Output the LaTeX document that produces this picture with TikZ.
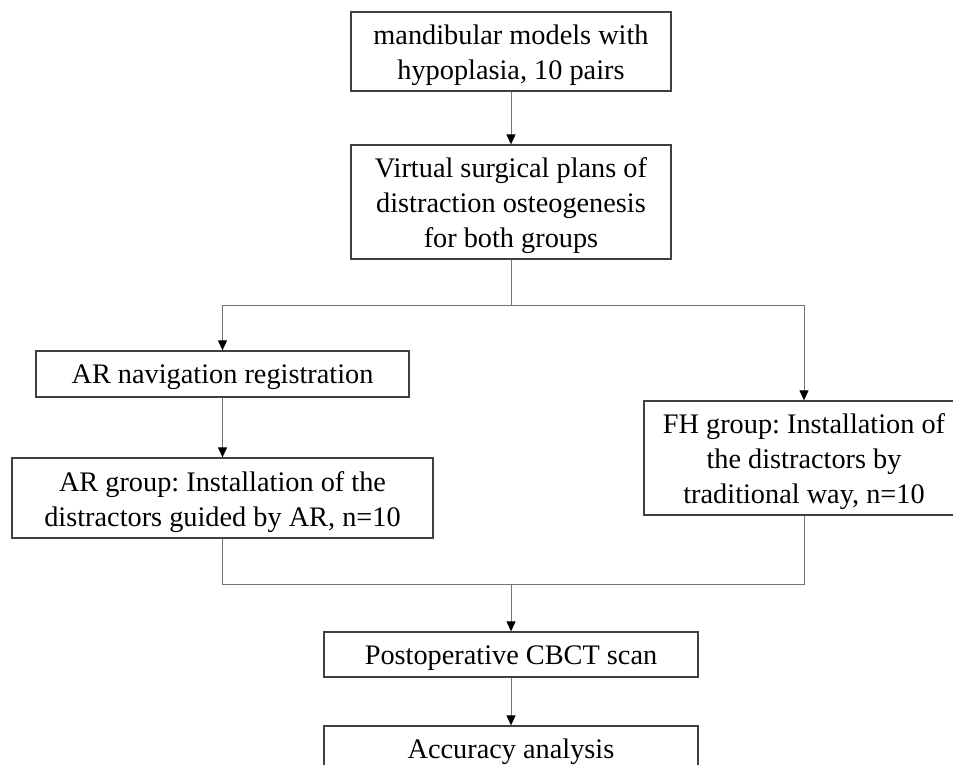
\documentclass[tikz,border=0pt]{standalone}
\usepackage{fontspec}
\setmainfont{Liberation Serif}
\usetikzlibrary{arrows.meta}
\definecolor{boxc}{gray}{0.25}
\definecolor{linec}{gray}{0.45}
\frenchspacing
\newcommand{\dropstrut}{\rule{0pt}{25.5pt}}
\newcommand{\dropmulti}{\rule{0pt}{28pt}}
\begin{document}
\begin{tikzpicture}[x=1pt,y=-1pt,
  box/.style={draw=boxc,line width=1.3pt,inner sep=0pt,align=center,
    font=\fontsize{28.3}{35}\selectfont},
  conn/.style={draw=linec,line width=1pt},
  arr/.style={conn,-{Triangle[width=9pt,length=10pt,color=black]}}]
\useasboundingbox (0,0) rectangle (953,765);
\node[box,minimum width=320,minimum height=79] (b1) at (511,51.5)
  {\dropmulti mandibular models with\\hypoplasia, 10 pairs};
\node[box,minimum width=320,minimum height=114] (b2) at (511,202)
  {\dropmulti Virtual surgical plans of\\distraction osteogenesis\\for both groups};
\node[box,minimum width=373,minimum height=46] (nav) at (222.5,374)
  {\dropstrut AR navigation registration};
\node[box,minimum width=421,minimum height=80] (arg) at (222.5,498)
  {\dropmulti AR group: Installation of the\\distractors guided by AR, n=10};
\node[box,minimum width=320,minimum height=114] (fh) at (804,458)
  {\dropmulti FH group: Installation of\\the distractors by\\traditional way, n=10};
\node[box,minimum width=374,minimum height=45] (ct) at (511,654.5)
  {\dropstrut Postoperative CBCT scan};
\node[box,minimum width=374,minimum height=45] (acc) at (511,748.5)
  {\dropstrut Accuracy analysis};
\coordinate (split) at (511,305);
\coordinate (merge) at (511,584);
\draw[arr] (b1.south) -- (b2.north);
\draw[conn] (b2.south) -- (split);
\draw[arr] (split) -| (nav.north);
\draw[arr] (split) -| (fh.north);
\draw[arr] (nav.south) -- (arg.north);
\draw[conn] (arg.south) |- (merge);
\draw[conn] (fh.south) |- (merge);
\draw[arr] (merge) -- (ct.north);
\draw[arr] (ct.south) -- (acc.north);
\end{tikzpicture}
\end{document}
